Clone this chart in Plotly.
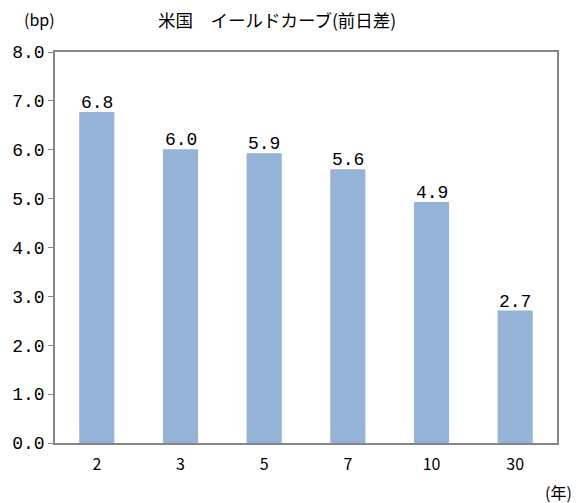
import plotly.graph_objects as go

categories = ["2", "3", "5", "7", "10", "30"]
values = [6.77, 6.01, 5.93, 5.60, 4.93, 2.71]
labels = ["6.8", "6.0", "5.9", "5.6", "4.9", "2.7"]
y_ticks = [0, 1, 2, 3, 4, 5, 6, 7, 8]

mono = "Liberation Mono, DejaVu Sans Mono, monospace"
jp = "Noto Sans CJK JP"
axis_col = "#868686"

L, R, T, B, W, H = 55, 24, 52, 60, 581, 503

fig = go.Figure(go.Bar(
    x=categories, y=values,
    marker=dict(color="#95B3D7", line=dict(width=0)),
    width=0.42,
))

ann = []
for i, (v, t) in enumerate(zip(values, labels)):
    ann.append(dict(x=i, y=v, xref="x", yref="y", text=t, showarrow=False,
                    yanchor="bottom", yshift=-3,
                    font=dict(family=mono, size=18, color="black")))

def px(x, y):
    return (x - L) / (W - L - R), 1 - (y - T) / (H - T - B)

for text, x, y, s in [("米国　イールドカーブ(前日差)", 277, 19, 17.5), ("(bp)", 39, 19, 16), ("(年)", 558, 492, 16)]:
    xx, yy = px(x, y)
    ann.append(dict(text=text, x=xx, y=yy, xref="paper", yref="paper", showarrow=False,
                    xanchor="center", yanchor="middle",
                    font=dict(family=jp, size=s, color="black")))

fig.update_layout(
    width=W, height=H,
    margin=dict(l=L, r=R, t=T, b=B),
    plot_bgcolor="white", paper_bgcolor="white",
    showlegend=False,
    xaxis=dict(type="category", range=[-0.5, 5.5], showline=True, linecolor=axis_col, linewidth=1.5, mirror=True,
               ticks="", tickfont=dict(family=jp, size=16, color="black"), ticklabelstandoff=6),
    yaxis=dict(range=[0, 8], tickvals=y_ticks, tickformat=".1f", showgrid=False, zeroline=False,
               showline=True, linecolor=axis_col, linewidth=1.5, mirror=True,
               ticks="outside", ticklen=5, tickcolor=axis_col,
               tickfont=dict(family=mono, size=18, color="black")),
    annotations=ann,
)

fig.write_html("out.html")
